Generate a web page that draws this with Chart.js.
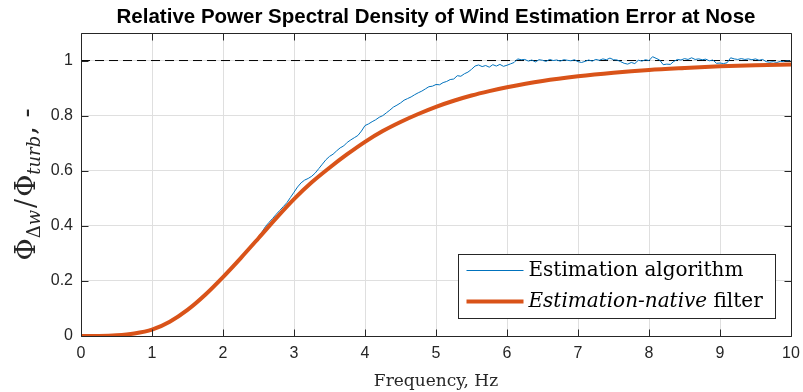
<!DOCTYPE html>
<html>
<head>
<meta charset="utf-8">
<script src="https://cdn.jsdelivr.net/npm/chart.js@4.4.1/dist/chart.umd.min.js"></script>
<style>
  html, body { margin: 0; padding: 0; background: #fff; }
  #wrap { width: 803px; height: 392px; }
</style>
</head>
<body>
<div id="wrap"><canvas id="c" width="803" height="392"></canvas></div>
<script>
// Estimated relative PSD (noisy, from the estimation algorithm)
const freqEst = [
  0, 0.25, 0.5, 0.75, 1.0, 1.25, 1.5, 1.75, 2.0, 2.25,
  2.50, 2.55, 2.60, 2.65, 2.70, 2.75, 2.80, 2.85, 2.90, 2.95,
  3.00, 3.05, 3.10, 3.15, 3.20, 3.25, 3.30, 3.35, 3.40, 3.45,
  3.50, 3.55, 3.60, 3.65, 3.70, 3.75, 3.80, 3.85, 3.90, 3.95,
  4.00, 4.05, 4.10, 4.15, 4.20, 4.25, 4.30, 4.35, 4.40, 4.45,
  4.50, 4.55, 4.60, 4.65, 4.70, 4.75, 4.80, 4.85, 4.90, 4.95,
  5.00, 5.05, 5.10, 5.15, 5.20, 5.25, 5.30, 5.35, 5.40, 5.45,
  5.50, 5.55, 5.60, 5.65, 5.70, 5.75, 5.80, 5.85, 5.90, 5.95,
  6.00, 6.05, 6.10, 6.15, 6.20, 6.25, 6.30, 6.35, 6.40, 6.45,
  6.50, 6.55, 6.60, 6.65, 6.70, 6.75, 6.80, 6.85, 6.90, 6.95,
  7.00, 7.05, 7.10, 7.15, 7.20, 7.25, 7.30, 7.35, 7.40, 7.45,
  7.50, 7.55, 7.60, 7.65, 7.70, 7.75, 7.80, 7.85, 7.90, 7.95,
  8.00, 8.05, 8.10, 8.15, 8.20, 8.25, 8.30, 8.35, 8.40, 8.45,
  8.50, 8.55, 8.60, 8.65, 8.70, 8.75, 8.80, 8.85, 8.90, 8.95,
  9.00, 9.05, 9.10, 9.15, 9.20, 9.25, 9.30, 9.35, 9.40, 9.45,
  9.50, 9.55, 9.60, 9.65, 9.70, 9.75, 9.80, 9.85, 9.90, 9.95,
  10.00
];
const psdEst = [
  0, 0.0003, 0.0025, 0.009, 0.023, 0.052, 0.095, 0.150, 0.214, 0.285,
  0.360, 0.378, 0.398, 0.413, 0.427, 0.442, 0.456, 0.470, 0.484, 0.503,
  0.522, 0.541, 0.556, 0.566, 0.572, 0.580, 0.592, 0.608, 0.624, 0.640,
  0.652, 0.660, 0.672, 0.683, 0.690, 0.703, 0.712, 0.720, 0.728, 0.744,
  0.764, 0.770, 0.778, 0.785, 0.794, 0.800, 0.810, 0.820, 0.831, 0.838,
  0.846, 0.856, 0.862, 0.868, 0.876, 0.883, 0.889, 0.897, 0.905, 0.907,
  0.913, 0.912, 0.920, 0.924, 0.931, 0.933, 0.945, 0.943, 0.952, 0.958,
  0.968, 0.980, 0.984, 0.978, 0.982, 0.976, 0.985, 0.980, 0.986, 0.979,
  0.983, 0.988, 0.993, 1.006, 1.003, 1.004, 0.998, 1.002, 0.995, 1.003,
  1.001, 0.997, 1.004, 1.000, 1.002, 0.998, 1.003, 1.001, 0.999, 1.003,
  0.996, 0.993, 0.997, 1.002, 0.998, 1.004, 1.001, 1.006, 1.003, 1.009,
  1.003, 1.002, 0.996, 0.990, 0.987, 0.993, 0.989, 1.001, 0.998, 1.003,
  1.000, 1.014, 1.008, 1.002, 0.985, 0.987, 0.986, 0.997, 1.004, 1.002,
  1.007, 1.004, 1.010, 1.004, 1.006, 1.003, 1.005, 0.999, 1.002, 0.990,
  0.991, 0.989, 0.992, 1.010, 1.006, 1.004, 1.007, 1.004, 1.006, 1.003,
  1.006, 1.001, 1.004, 0.996, 0.994, 0.996, 0.993, 0.997, 0.996, 0.999,
  0.997
];

// Estimation-native filter response
const freqFilt = [
  0, 0.25, 0.5, 0.75, 1.0, 1.25, 1.5, 1.75, 2.0, 2.25,
  2.5, 2.75, 3.0, 3.25, 3.5, 3.75, 4.0, 4.25, 4.5, 4.75,
  5.0, 5.25, 5.5, 5.75, 6.0, 6.5, 7.0, 7.5, 8.0, 8.5,
  9.0, 9.5, 10.0
];
const psdFilt = [
  0, 0.0003, 0.0025, 0.009, 0.023, 0.052, 0.095, 0.150, 0.214, 0.283,
  0.355, 0.428, 0.497, 0.558, 0.611, 0.660, 0.705, 0.744, 0.777, 0.806,
  0.832, 0.854, 0.873, 0.889, 0.903, 0.926, 0.943, 0.956, 0.966, 0.973,
  0.979, 0.983, 0.986
];

// Unit reference level
const refFreq = [0, 10];
const refLevel = [1, 1];

const xTicks = [0, 1, 2, 3, 4, 5, 6, 7, 8, 9, 10];
const xTickLabels = ['0', '1', '2', '3', '4', '5', '6', '7', '8', '9', '10'];
const yTicks = [0, 0.2, 0.4, 0.6, 0.8, 1];
const yTickLabels = ['0', '0.2', '0.4', '0.6', '0.8', '1'];

const seriesNames = ['Estimation algorithm', 'Estimation-native filter'];
const titleText = 'Relative Power Spectral Density of Wind Estimation Error at Nose';
const xTitle = 'Frequency, Hz';

const toPoints = (xs, ys) => xs.map((x, i) => ({ x, y: ys[i] }));

const AXIS = '#262626';
const SERIF = '"DejaVu Serif", "Liberation Serif", serif';

// Plot title centred over the axes
const plotTitle = {
  id: 'plotTitle',
  afterDraw(chart) {
    const { ctx, chartArea: a } = chart;
    ctx.save();
    ctx.font = 'bold 20.5px "Liberation Sans", Arial, sans-serif';
    ctx.fillStyle = '#000';
    ctx.textAlign = 'center';
    ctx.textBaseline = 'middle';
    ctx.fillText(titleText, (a.left + a.right) / 2, 17);
    ctx.restore();
  }
};

// Axes box with inward tick marks on all four sides
const frame = {
  id: 'frame',
  afterDatasetsDraw(chart) {
    const { ctx, chartArea: a, scales: { x, y } } = chart;
    const L = 7;
    const l = Math.round(a.left) + 0.5, r = Math.round(a.right) + 0.5;
    const t = Math.round(a.top) + 0.5, b = Math.round(a.bottom) + 0.5;
    ctx.save();
    ctx.strokeStyle = AXIS;
    ctx.lineWidth = 1;
    ctx.beginPath();
    ctx.rect(l, t, r - l, b - t);
    xTicks.forEach(v => {
      const px = Math.round(x.getPixelForValue(v)) + 0.5;
      ctx.moveTo(px, b); ctx.lineTo(px, b - L);
      ctx.moveTo(px, t); ctx.lineTo(px, t + L);
    });
    yTicks.forEach(v => {
      const py = Math.round(y.getPixelForValue(v)) + 0.5;
      ctx.moveTo(l, py); ctx.lineTo(l + L, py);
      ctx.moveTo(r, py); ctx.lineTo(r - L, py);
    });
    ctx.stroke();
    ctx.restore();
  }
};

// Y-axis label with subscripts: Phi_{Delta w} / Phi_{turb}, -
const yLabel = {
  id: 'yLabel',
  afterDraw(chart) {
    const { ctx, chartArea: a } = chart;
    const big = '27px ' + SERIF;
    const sub = '18px ' + SERIF;
    const subIt = 'italic 18px ' + SERIF;
    const parts = [
      { t: '\u03A6', f: big, dy: 0, gap: 0 },
      { t: '\u0394', f: sub, dy: 5, gap: 0 },
      { t: 'w', f: subIt, dy: 5, gap: 2 },
      { t: '/', f: big, dy: 0, gap: 2 },
      { t: '\u03A6', f: big, dy: 0, gap: 0 },
      { t: 'turb', f: subIt, dy: 5, gap: 1 },
      { t: ', -', f: big, dy: 0, gap: 0 }
    ];
    ctx.save();
    let total = 0;
    parts.forEach(p => { ctx.font = p.f; p.w = ctx.measureText(p.t).width; total += p.w + p.gap; });
    ctx.translate(35, (a.top + a.bottom) / 2);
    ctx.rotate(-Math.PI / 2);
    ctx.fillStyle = AXIS;
    ctx.textBaseline = 'alphabetic';
    ctx.textAlign = 'left';
    let cx = -total / 2;
    parts.forEach(p => {
      ctx.font = p.f;
      ctx.fillText(p.t, cx, p.dy);
      cx += p.w + p.gap;
    });
    ctx.restore();
  }
};

// Legend box in the lower right of the axes
const legendBox = {
  id: 'legendBox',
  afterDraw(chart) {
    const { ctx, chartArea: a } = chart;
    const ds = chart.data.datasets;
    const w = 317, h = 64;
    const x0 = Math.round(a.right - 16 - w) + 0.5;
    const y0 = Math.round(a.bottom - 18 - h) + 0.5;
    ctx.save();
    ctx.fillStyle = '#fff';
    ctx.fillRect(x0, y0, w, h);
    ctx.strokeStyle = AXIS;
    ctx.lineWidth = 1;
    ctx.strokeRect(x0, y0, w, h);
    const rows = [y0 + 16, y0 + 47];
    [0, 1].forEach(i => {
      ctx.beginPath();
      ctx.strokeStyle = ds[i].borderColor;
      ctx.lineWidth = ds[i].borderWidth;
      ctx.moveTo(x0 + 8, rows[i]);
      ctx.lineTo(x0 + 65, rows[i]);
      ctx.stroke();
    });
    ctx.fillStyle = '#000';
    ctx.textBaseline = 'middle';
    ctx.textAlign = 'left';
    const tx = x0 + 70;
    ctx.font = '20px ' + SERIF;
    ctx.fillText(seriesNames[0], tx, rows[0]);
    const itPart = 'Estimation-native';
    const rest = seriesNames[1].slice(itPart.length);
    ctx.font = 'italic 20px ' + SERIF;
    ctx.fillText(itPart, tx, rows[1]);
    const wIt = ctx.measureText(itPart).width;
    ctx.font = '20px ' + SERIF;
    ctx.fillText(rest, tx + wIt, rows[1]);
    ctx.restore();
  }
};

new Chart(document.getElementById('c'), {
  type: 'line',
  data: {
    datasets: [
      {
        label: seriesNames[0],
        data: toPoints(freqEst, psdEst),
        borderColor: '#0072BD',
        borderWidth: 1,
        pointRadius: 0,
        tension: 0,
        order: 1
      },
      {
        label: seriesNames[1],
        data: toPoints(freqFilt, psdFilt),
        borderColor: '#D95319',
        borderWidth: 4,
        pointRadius: 0,
        cubicInterpolationMode: 'monotone',
        order: 0
      },
      {
        label: 'reference',
        data: toPoints(refFreq, refLevel),
        borderColor: '#000',
        borderWidth: 1,
        borderDash: [9, 5],
        pointRadius: 0,
        order: 2
      }
    ]
  },
  options: {
    responsive: false,
    devicePixelRatio: 1,
    animation: false,
    events: [],
    layout: { padding: { top: 33, right: 12, bottom: 0, left: 0 } },
    plugins: {
      legend: { display: false },
      title: { display: false },
      tooltip: { enabled: false }
    },
    scales: {
      x: {
        type: 'linear',
        min: 0,
        max: 10,
        afterBuildTicks: s => { s.ticks = xTicks.map(v => ({ value: v })); },
        afterFit: s => { s.height = 56; s.paddingLeft = 0; s.paddingRight = 0; },
        ticks: {
          callback: (v) => xTickLabels[xTicks.indexOf(v)],
          font: { family: '"Liberation Sans", Arial, sans-serif', size: 16 },
          color: AXIS,
          padding: 8,
          maxRotation: 0
        },
        grid: { color: '#dfdfdf', drawTicks: false },
        border: { display: false },
        title: {
          display: true,
          text: xTitle,
          font: { family: SERIF, size: 17 },
          color: AXIS,
          padding: { top: 0, bottom: 0 }
        }
      },
      y: {
        type: 'linear',
        min: 0,
        max: 1.1,
        afterBuildTicks: s => { s.ticks = yTicks.map(v => ({ value: v })); },
        afterFit: s => { s.width = 81; },
        ticks: {
          callback: (v) => yTickLabels[yTicks.indexOf(v)],
          font: { family: '"Liberation Sans", Arial, sans-serif', size: 16 },
          color: AXIS,
          padding: 8
        },
        grid: { color: '#dfdfdf', drawTicks: false },
        border: { display: false }
      }
    }
  },
  plugins: [frame, plotTitle, yLabel, legendBox]
});
</script>
</body>
</html>
